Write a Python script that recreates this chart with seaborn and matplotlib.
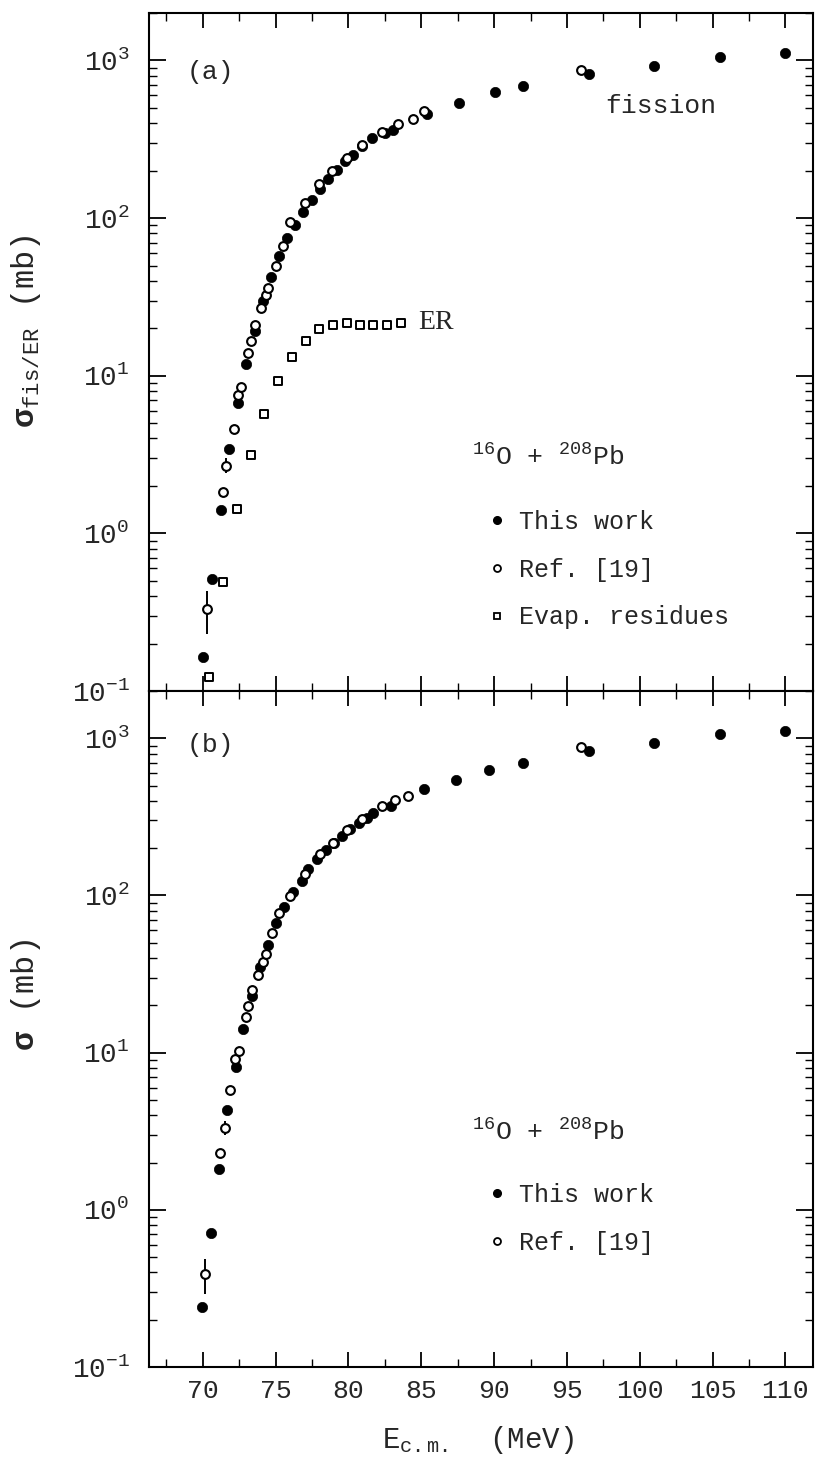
import numpy as np
import pandas as pd
import matplotlib
matplotlib.use("Agg")
import matplotlib.pyplot as plt
import seaborn as sns
from matplotlib.ticker import MultipleLocator, LogLocator, NullFormatter
from matplotlib.lines import Line2D

# ---------------- data: panel (a) fission / ER ----------------
a_this_E = [70.0, 70.64, 71.24, 71.81, 72.43, 72.96, 73.57, 74.1, 74.65, 75.22, 75.8,
            76.32, 76.9, 77.47, 78.04, 78.61, 79.19, 79.76, 80.33, 80.9, 81.6, 82.51,
            83.08, 85.37, 87.6, 90.07, 92.0, 96.5, 101.0, 105.5, 110.0]
a_this_sig = [0.165, 0.51, 1.41, 3.43, 6.71, 11.9, 19.3, 29.7, 42.4, 57.2, 74.8,
              90.9, 110, 131, 152, 176, 203, 230, 253, 286, 323, 347,
              361, 460, 538, 632, 690, 815, 920, 1055, 1108]
a_ref_E = [70.30, 71.35, 71.62, 72.13, 72.43, 72.61, 73.07, 73.30, 73.57, 73.99, 74.33,
           74.44, 75.02, 75.48, 76.0, 77.0, 78.0, 78.9, 79.9, 80.9, 82.3, 83.4, 84.4,
           85.2, 96.0]
a_ref_sig = [0.33, 1.82, 2.67, 4.59, 7.57, 8.47, 13.9, 16.7, 21.1, 26.9, 32.7,
             36.0, 49.4, 66.8, 95, 125, 165, 200, 240, 290, 350, 393, 424,
             480, 867]
a_ref_err_E = [70.30, 71.62]
a_ref_err_sig = [0.33, 2.67]
a_ref_err_lo = [0.23, 2.40]
a_ref_err_hi = [0.43, 3.00]
a_er_E = [70.43, 71.35, 72.35, 73.3, 74.21, 75.18, 76.14, 77.08, 78.0, 78.91, 79.88,
          80.79, 81.7, 82.67, 83.59]
a_er_sig = [0.122, 0.49, 1.42, 3.15, 5.7, 9.2, 13.1, 16.7, 19.9, 20.9, 21.6,
            20.9, 21.1, 20.9, 21.6]

# ---------------- data: panel (b) total ----------------
b_this_E = [69.95, 70.53, 71.1, 71.67, 72.25, 72.77, 73.35, 73.92, 74.49, 75.02, 75.59,
            76.2, 76.78, 77.24, 77.86, 78.43, 79.0, 79.58, 80.1, 80.74, 81.25, 81.66,
            82.9, 85.19, 87.39, 89.68, 92.0, 96.5, 101.0, 105.5, 110.0]
b_this_sig = [0.24, 0.71, 1.83, 4.3, 8.1, 14.2, 23, 34.9, 48.6, 66.7, 85,
              105, 124, 147, 170, 194, 217, 239, 264, 290, 313, 336,
              371, 473, 542, 631, 700, 830, 935, 1070, 1120]
b_ref_E = [70.14, 71.2, 71.5, 71.85, 72.2, 72.47, 72.95, 73.1, 73.39, 73.8, 74.1,
           74.33, 74.72, 75.22, 75.98, 77.0, 78.04, 78.91, 79.88, 80.9, 82.28, 83.2,
           84.11, 96.0]
b_ref_sig = [0.39, 2.3, 3.34, 5.8, 9.1, 10.3, 16.8, 19.9, 25, 31.2, 37.9,
             42.4, 57.7, 77.3, 99.6, 136, 183, 215, 261, 308, 371, 408,
             429, 880]
b_ref_err_E = [70.14, 71.5]
b_ref_err_sig = [0.39, 3.34]
b_ref_err_lo = [0.29, 3.0]
b_ref_err_hi = [0.485, 3.7]

xticks = [70, 75, 80, 85, 90, 95, 100, 105, 110]
legend_labels_a = ["This work", "Ref. [19]", "Evap. residues"]
legend_labels_b = ["This work", "Ref. [19]"]
reaction = r"$^{16}$O + $^{208}$Pb"

# ---------------- style ----------------
sns.set_style("ticks")
plt.rcParams["font.family"] = ["Liberation Mono", "DejaVu Sans"]
plt.rcParams["mathtext.fontset"] = "custom"
plt.rcParams["mathtext.rm"] = "Liberation Mono"
plt.rcParams["mathtext.it"] = "Liberation Mono:italic"
plt.rcParams["mathtext.bf"] = "Liberation Mono:bold"
plt.rcParams["mathtext.default"] = "regular"

W, H = 818, 1474
fig = plt.figure(figsize=(W / 100, H / 100), dpi=100)
L, R = 149 / W, 813 / W
axA = fig.add_axes([L, 1 - 691 / H, R - L, (691 - 13) / H])
axB = fig.add_axes([L, 1 - 1367 / H, R - L, (1367 - 691) / H])

S_FILL, S_OPEN, S_SQ = 55, 40, 36


def draw(ax, this_E, this_s, ref_E, ref_s, eE, es, elo, ehi, er_E=None, er_s=None):
    es_a = np.array(es)
    yerr = [es_a - np.array(elo), np.array(ehi) - es_a]
    ax.errorbar(eE, es, yerr=yerr, fmt="none", ecolor="black", elinewidth=1.4,
                capsize=0, zorder=2)
    sns.scatterplot(x=ref_E, y=ref_s, ax=ax, marker="o", s=S_OPEN, color="white",
                    edgecolor="black", linewidth=1.5, zorder=4)
    sns.scatterplot(x=this_E, y=this_s, ax=ax, marker="o", s=S_FILL, color="black",
                    edgecolor="black", linewidth=0.5, zorder=3)
    if er_E is not None:
        sns.scatterplot(x=er_E, y=er_s, ax=ax, marker="s", s=S_SQ, color="white",
                        edgecolor="black", linewidth=1.4, zorder=4)


def style(ax, show_xlabels):
    ax.set_yscale("log")
    ax.set_ylim(0.1, 2000)
    ax.set_xlim(66.3, 111.9)
    ax.set_xticks(xticks)
    ax.xaxis.set_minor_locator(MultipleLocator(2.5))
    ax.yaxis.set_major_locator(LogLocator(base=10, numticks=10))
    ax.yaxis.set_minor_locator(LogLocator(base=10, subs=np.arange(2, 10), numticks=10))
    ax.yaxis.set_minor_formatter(NullFormatter())
    ax.tick_params(which="both", direction="in", top=True, right=True, color="black")
    ax.tick_params(axis="y", which="major", length=12, width=1.3, labelsize=20, pad=14)
    ax.tick_params(axis="y", which="minor", length=6, width=1.0)
    ax.tick_params(axis="x", which="major", length=11, width=1.3, labelsize=19, pad=9)
    ax.tick_params(axis="x", which="minor", length=6, width=1.0)
    if not show_xlabels:
        ax.tick_params(axis="x", labelbottom=False)
    for sp in ax.spines.values():
        sp.set_linewidth(1.5)
        sp.set_color("black")
    ax.set_xlabel("")
    ax.set_ylabel("")


draw(axA, a_this_E, a_this_sig, a_ref_E, a_ref_sig, a_ref_err_E, a_ref_err_sig,
     a_ref_err_lo, a_ref_err_hi, a_er_E, a_er_sig)
draw(axB, b_this_E, b_this_sig, b_ref_E, b_ref_sig, b_ref_err_E, b_ref_err_sig,
     b_ref_err_lo, b_ref_err_hi)
style(axA, False)
style(axB, True)

# labels
axA.set_ylabel(r"$\mathbf{\sigma}_{fis/ER}$ (mb)", fontsize=23)
axA.yaxis.set_label_coords(-0.16, 0.53)
axB.set_ylabel(r"$\mathbf{\sigma}$ (mb)", fontsize=23)
axB.yaxis.set_label_coords(-0.16, 0.55)
axB.set_xlabel(r"E$_{c.m.}$  (MeV)", fontsize=21)
axB.xaxis.set_label_coords(0.495, -0.085)

axA.text(0.057, 0.913, "(a)", transform=axA.transAxes, fontsize=19, va="center", ha="left")
axB.text(0.057, 0.920, "(b)", transform=axB.transAxes, fontsize=19, va="center", ha="left")
axA.text(0.687, 0.863, "fission", transform=axA.transAxes, fontsize=19, va="center", ha="left")
axA.text(0.405, 0.543, "ER", transform=axA.transAxes, fontsize=20, va="center", ha="left",
         family="Liberation Serif")
axA.text(0.486, 0.333, reaction, transform=axA.transAxes, fontsize=19, va="baseline", ha="left")
axB.text(0.486, 0.336, reaction, transform=axB.transAxes, fontsize=19, va="baseline", ha="left")

h_fill = Line2D([], [], ls="none", marker="o", ms=5.5, mfc="black", mec="black")
h_open = Line2D([], [], ls="none", marker="o", ms=5, mfc="white", mec="black", mew=1.3)
h_sq = Line2D([], [], ls="none", marker="s", ms=5, mfc="white", mec="black", mew=1.3)
legkw = dict(loc="upper left", frameon=False, fontsize=18, handlelength=0.8,
             handletextpad=0.5, labelspacing=0.95, borderpad=0, borderaxespad=0)
axA.legend([h_fill, h_open, h_sq], legend_labels_a, bbox_to_anchor=(0.509, 0.267), **legkw)
axB.legend([h_fill, h_open], legend_labels_b, bbox_to_anchor=(0.509, 0.272), **legkw)

fig.savefig("out.png", dpi=100)
